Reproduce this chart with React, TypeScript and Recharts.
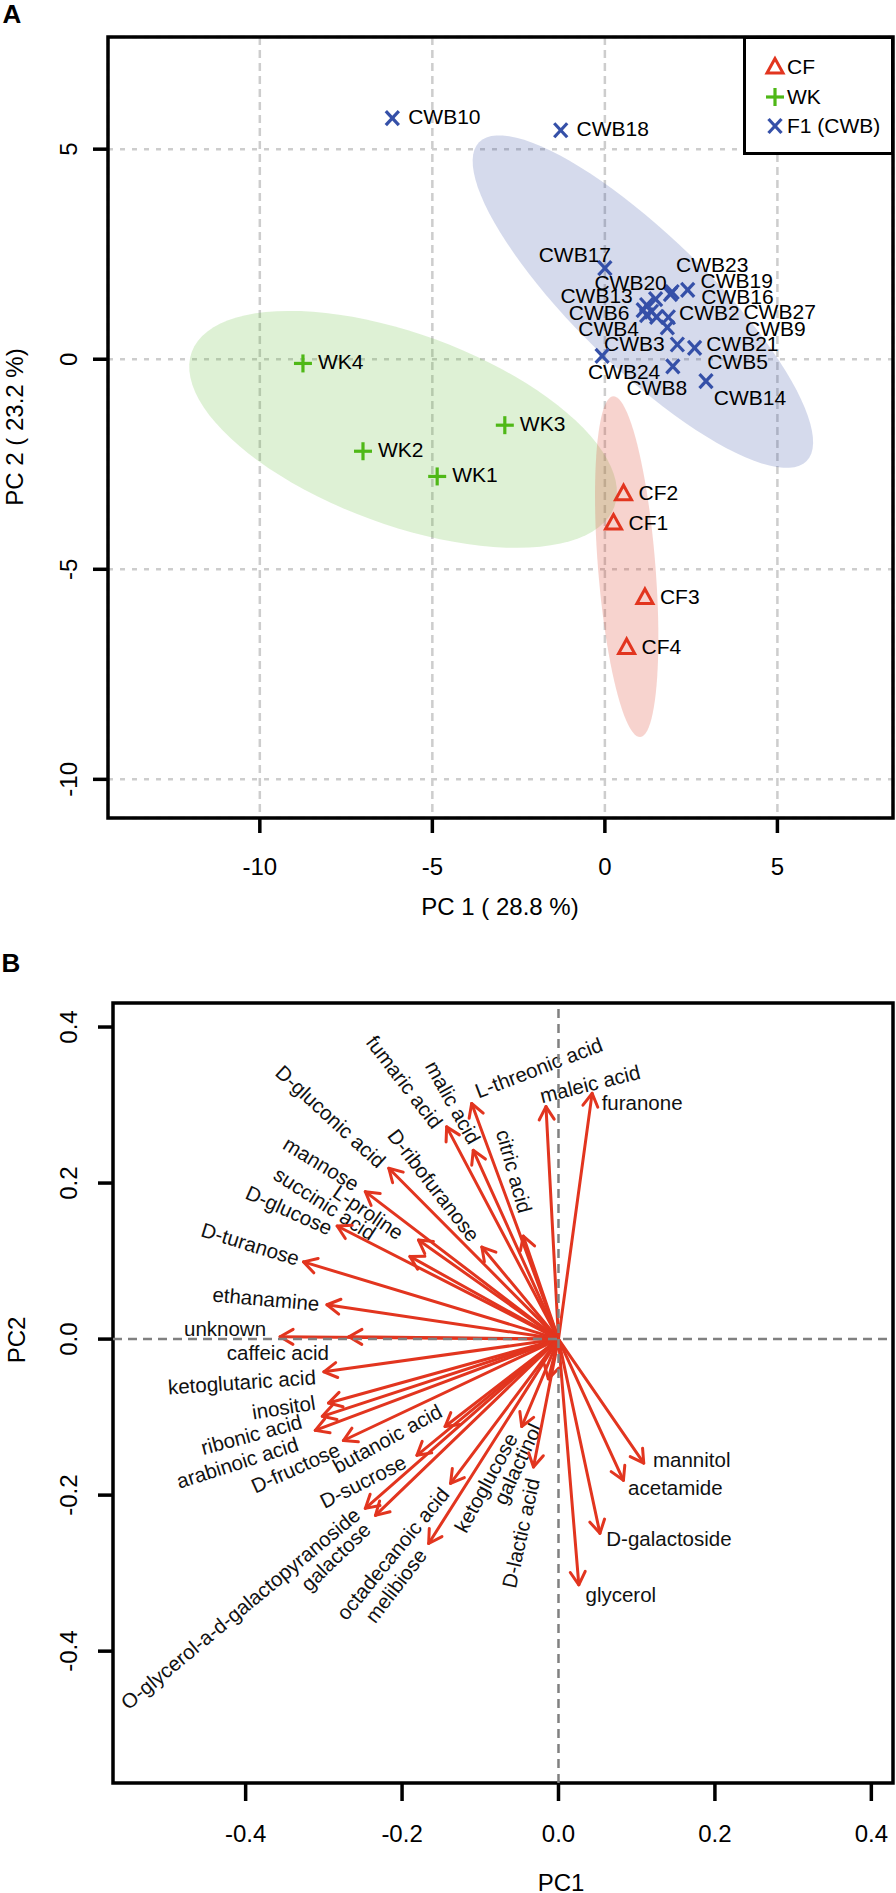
import React from 'react';
import { ScatterChart, Scatter, XAxis, YAxis, CartesianGrid, ReferenceLine, ReferenceArea } from 'recharts';

const FONT = '"Liberation Sans", Arial, Helvetica, sans-serif';
const RED = '#e2351f';
const GREEN = '#4fb817';
const BLUE = '#3550a8';
const GRID = '#cdcdcd';

// ---- panel A: PCA scores ----
const cfScores = [
  { name: 'CF1', pc1: 0.25, pc2: -3.9 },
  { name: 'CF2', pc1: 0.54, pc2: -3.2 },
  { name: 'CF3', pc1: 1.16, pc2: -5.67 },
  { name: 'CF4', pc1: 0.63, pc2: -6.86 },
];

const wkScores = [
  { name: 'WK1', pc1: -4.86, pc2: -2.79 },
  { name: 'WK2', pc1: -7.01, pc2: -2.19 },
  { name: 'WK3', pc1: -2.9, pc2: -1.57 },
  { name: 'WK4', pc1: -8.75, pc2: -0.1 },
];

const cwbScores = [
  { name: 'CWB10', pc1: -6.16, pc2: 5.74 },
  { name: 'CWB18', pc1: -1.28, pc2: 5.45 },
  { name: 'CWB17', pc1: 0.0, pc2: 2.17 },
  { name: 'CWB19', pc1: 2.4, pc2: 1.65 },
  { name: 'CWB16', pc1: 1.9, pc2: 1.55 },
  { name: 'CWB23', pc1: 1.95, pc2: 1.6 },
  { name: 'CWB20', pc1: 1.47, pc2: 1.43 },
  { name: 'CWB13', pc1: 1.21, pc2: 1.29 },
  { name: 'CWB6', pc1: 1.11, pc2: 1.17 },
  { name: 'CWB2', pc1: 1.35, pc2: 1.13 },
  { name: 'CWB4', pc1: 1.21, pc2: 1.05 },
  { name: 'CWB27', pc1: 1.5, pc2: 1.01 },
  { name: 'CWB9', pc1: 1.84, pc2: 1.0 },
  { name: 'CWB3', pc1: 1.81, pc2: 0.76 },
  { name: 'CWB21', pc1: 2.1, pc2: 0.35 },
  { name: 'CWB5', pc1: 2.6, pc2: 0.27 },
  { name: 'CWB24', pc1: -0.08, pc2: 0.08 },
  { name: 'CWB8', pc1: 1.97, pc2: -0.17 },
  { name: 'CWB14', pc1: 2.93, pc2: -0.52 },
];

const scoreTicks = [-10, -5, 0, 5];

// group ellipses: centre and two conjugate semi-axes (PC units)
const ellipseParams = [
  { id: 'F1', color: '#2b44a0', opacity: 0.2, cx: 1.101, cy: 1.371, ux: 4.748, uy: -3.793, vx: -1.34, vy: -1.131 },
  { id: 'WK', color: '#5cb82e', opacity: 0.2, cx: -5.849, cy: -1.669, ux: 6.124, uy: -1.841, vx: -0.951, vy: -2.136 },
  { id: 'CF', color: '#e0503c', opacity: 0.25, cx: 0.632, cy: -4.938, ux: 0.394, uy: -4.056, vx: -0.829, vy: -0.054 },
];

// where each score label sits relative to its point (px)
const scoreLabelPos: Record<string, [number, number, 'start' | 'middle']> = {
  CF1: [15, -1, 'start'], CF2: [15, -1, 'start'], CF3: [15, -1, 'start'], CF4: [15, -1, 'start'],
  WK1: [15, -2, 'start'], WK2: [15, -2, 'start'], WK3: [15, -2, 'start'], WK4: [15, -2, 'start'],
  CWB10: [52, -2, 'middle'], CWB18: [52, -2, 'middle'], CWB17: [-30, -14, 'middle'],
  CWB19: [49, -9, 'middle'], CWB16: [67, 2, 'middle'], CWB23: [40, -28, 'middle'],
  CWB20: [-25, -17, 'middle'], CWB13: [-50, -10, 'middle'], CWB6: [-44, 2, 'middle'],
  CWB2: [58, 1, 'middle'], CWB4: [-38, 13, 'middle'], CWB27: [123, -5, 'middle'],
  CWB9: [107, 11, 'middle'], CWB3: [-33, 16, 'middle'], CWB21: [65, -1, 'middle'],
  CWB5: [43, 14, 'middle'], CWB24: [22, 16, 'middle'], CWB8: [-16, 21, 'middle'],
  CWB14: [44, 16, 'middle'],
};

// ---- panel B: loadings ----
const loadings = [
  { name: 'furanone', pc1: 0.043, pc2: 0.315 },
  { name: 'maleic acid', pc1: -0.016, pc2: 0.298 },
  { name: 'L-threonic acid', pc1: -0.111, pc2: 0.302 },
  { name: 'fumaric acid', pc1: -0.143, pc2: 0.272 },
  { name: 'malic acid', pc1: -0.109, pc2: 0.242 },
  { name: 'citric acid', pc1: -0.045, pc2: 0.132 },
  { name: 'D-ribofuranose', pc1: -0.098, pc2: 0.118 },
  { name: 'D-gluconic acid', pc1: -0.217, pc2: 0.219 },
  { name: 'mannose', pc1: -0.247, pc2: 0.189 },
  { name: 'L-proline', pc1: -0.179, pc2: 0.127 },
  { name: 'succinic acid', pc1: -0.19, pc2: 0.106 },
  { name: 'D-glucose', pc1: -0.283, pc2: 0.145 },
  { name: 'D-turanose', pc1: -0.326, pc2: 0.099 },
  { name: 'ethanamine', pc1: -0.296, pc2: 0.044 },
  { name: 'unknown', pc1: -0.356, pc2: 0.003 },
  { name: 'caffeic acid', pc1: -0.268, pc2: 0.003 },
  { name: 'ketoglutaric acid', pc1: -0.3, pc2: -0.042 },
  { name: 'inositol', pc1: -0.294, pc2: -0.082 },
  { name: 'ribonic acid', pc1: -0.302, pc2: -0.099 },
  { name: 'arabinoic acid', pc1: -0.311, pc2: -0.117 },
  { name: 'D-fructose', pc1: -0.275, pc2: -0.13 },
  { name: 'butanoic acid', pc1: -0.145, pc2: -0.112 },
  { name: 'D-sucrose', pc1: -0.181, pc2: -0.149 },
  { name: 'O-glycerol-a-d-galactopyranoside', pc1: -0.247, pc2: -0.217 },
  { name: 'galactose', pc1: -0.234, pc2: -0.226 },
  { name: 'octadecanoic acid', pc1: -0.138, pc2: -0.185 },
  { name: 'melibiose', pc1: -0.166, pc2: -0.262 },
  { name: 'ketoglucose', pc1: -0.047, pc2: -0.112 },
  { name: 'galactinol', pc1: -0.013, pc2: -0.051 },
  { name: 'D-lactic acid', pc1: -0.032, pc2: -0.164 },
  { name: 'mannitol', pc1: 0.109, pc2: -0.159 },
  { name: 'acetamide', pc1: 0.083, pc2: -0.181 },
  { name: 'D-galactoside', pc1: 0.053, pc2: -0.249 },
  { name: 'glycerol', pc1: 0.026, pc2: -0.315 },
];

const loadingTicks = [-0.4, -0.2, 0, 0.2, 0.4];

// label centre relative to arrow tip (px) and text angle (deg)
const loadingLabelPos: Record<string, [number, number, number]> = {
  'furanone': [50, 9, 0],
  'maleic acid': [44, -23, -14],
  'L-threonic acid': [67, -36, -21],
  'fumaric acid': [-42, -45, 52.5],
  'malic acid': [-20, -48, 61],
  'citric acid': [-9, -65, 74.5],
  'D-ribofuranose': [-48, -62, 52.3],
  'D-gluconic acid': [-58, -52, 42.6],
  'mannose': [-44, -28, 31.4],
  'L-proline': [-50, -28, 34.4],
  'succinic acid': [-85, -53, 32.7],
  'D-glucose': [-48, -16, 24.2],
  'D-turanose': [-53, -18, 17.2],
  'ethanamine': [-61, -6, 5],
  'unknown': [-55, -8, 0],
  'caffeic acid': [-71, 16, 0],
  'ketoglutaric acid': [-82, 10, -4],
  'inositol': [-45, 4, -9],
  'ribonic acid': [-71, 18, -15],
  'arabinoic acid': [-78, 32, -17.7],
  'D-fructose': [-48, 27, -24.2],
  'butanoic acid': [-58, 12, -28.7],
  'D-sucrose': [-54, 26, -26.6],
  'O-glycerol-a-d-galactopyranoside': [-125, 100, -39.6],
  'galactose': [-40, 41, -44.2],
  'octadecanoic acid': [-58, 70, -50.5],
  'melibiose': [-33, 42, -52.4],
  'ketoglucose': [-36, 56, -61.5],
  'galactinol': [-31, 85, -64.9],
  'D-lactic acid': [-13, 66, -77.5],
  'mannitol': [48, -4, 0],
  'acetamide': [52, 7, 0],
  'D-galactoside': [69, 5, 0],
  'glycerol': [42, 10, 0],
};

const ellipseOutline = (e: typeof ellipseParams[number]) =>
  Array.from({ length: 97 }, (_, i) => {
    const t = (i / 96) * 2 * Math.PI;
    return {
      pc1: e.cx + e.ux * Math.cos(t) + e.vx * Math.sin(t),
      pc2: e.cy + e.uy * Math.cos(t) + e.vy * Math.sin(t),
    };
  });

const toPath = (pts: { x: number; y: number }[]) =>
  pts.map((p, i) => `${i ? 'L' : 'M'}${p.x},${p.y}`).join(' ') + ' Z';

const Marker = ({ kind, x, y }: { kind: string; x: number; y: number }) => {
  if (kind === 'triangle')
    return (
      <polygon
        points={`${x},${y - 8.5} ${x - 8},${y + 6} ${x + 8},${y + 6}`}
        fill="none" stroke={RED} strokeWidth={3} strokeLinejoin="miter"
      />
    );
  if (kind === 'plus')
    return (
      <g stroke={GREEN} strokeWidth={3.2}>
        <line x1={x - 9} y1={y} x2={x + 9} y2={y} />
        <line x1={x} y1={y - 9} x2={x} y2={y + 9} />
      </g>
    );
  return (
    <g stroke={BLUE} strokeWidth={3.2}>
      <line x1={x - 6.5} y1={y - 7} x2={x + 6.5} y2={y + 7} />
      <line x1={x - 6.5} y1={y + 7} x2={x + 6.5} y2={y - 7} />
    </g>
  );
};

const ScorePoint = (props: any) => {
  const { cx, cy, payload, kind } = props;
  const [dx, dy, anchor] = scoreLabelPos[payload.name] || [15, 0, 'start'];
  return (
    <g>
      <Marker kind={kind} x={cx} y={cy} />
      <text x={cx + dx} y={cy + dy} textAnchor={anchor} dominantBaseline="central" fontSize={21} fill="#000">
        {payload.name}
      </text>
    </g>
  );
};

const LoadingArrow = (props: any) => {
  const { x1, y1, x2, y2, name } = props;
  const a = Math.atan2(y2 - y1, x2 - x1);
  const L = 15;
  const w = Math.PI / 6;
  const h1 = `${x2 - L * Math.cos(a - w)},${y2 - L * Math.sin(a - w)}`;
  const h2 = `${x2 - L * Math.cos(a + w)},${y2 - L * Math.sin(a + w)}`;
  const [dx, dy, ang] = loadingLabelPos[name] || [0, 0, 0];
  const lx = x2 + dx;
  const ly = y2 + dy;
  return (
    <g>
      <line x1={x1} y1={y1} x2={x2} y2={y2} stroke={RED} strokeWidth={3} strokeLinecap="round" />
      <polyline points={`${h1} ${x2},${y2} ${h2}`} fill="none" stroke={RED} strokeWidth={3} strokeLinecap="round" strokeLinejoin="round" />
      <text x={lx} y={ly} textAnchor="middle" dominantBaseline="central" fontSize={20.5} fill="#111"
        transform={`rotate(${ang} ${lx} ${ly})`}>
        {name}
      </text>
    </g>
  );
};

const makeXTick = (fmt: (v: number) => string) => (p: any) => (
  <text x={p.x} y={p.y} textAnchor="middle" dominantBaseline="central" fontSize={24} fill="#000">
    {fmt(p.payload.value)}
  </text>
);
const makeYTick = (fmt: (v: number) => string) => (p: any) => (
  <text x={p.x} y={p.y} textAnchor="middle" dominantBaseline="central" fontSize={24} fill="#000"
    transform={`rotate(-90 ${p.x} ${p.y})`}>
    {fmt(p.payload.value)}
  </text>
);

const abs = (left: number, top: number, extra: React.CSSProperties = {}): React.CSSProperties => ({
  position: 'absolute', left, top, transform: 'translate(-50%, -50%)', whiteSpace: 'nowrap', ...extra,
});

const A_X: [number, number] = [-14.4, 8.35];
const A_Y: [number, number] = [-10.92, 7.67];
const B_X: [number, number] = [-0.5696, 0.4277];
const B_Y: [number, number] = [-0.569, 0.4308];

const Legend = () => (
  <div style={{ position: 'absolute', left: 743, top: 36, width: 151, height: 119, boxSizing: 'border-box', border: '3px solid #000', background: '#fff' }}>
    {[
      { kind: 'triangle', label: 'CF', y: 28 },
      { kind: 'plus', label: 'WK', y: 58 },
      { kind: 'cross', label: 'F1 (CWB)', y: 87 },
    ].map((it) => (
      <React.Fragment key={it.label}>
        <svg width={30} height={24} style={{ position: 'absolute', left: 14, top: it.y - 12 }}>
          <Marker kind={it.kind} x={15} y={12} />
        </svg>
        <div style={{ position: 'absolute', left: 41, top: it.y - 13, fontSize: 21, lineHeight: '26px' }}>{it.label}</div>
      </React.Fragment>
    ))}
  </div>
);

export default function App() {
  return (
    <div style={{ position: 'absolute', left: 0, top: 0, width: 896, height: 1893, overflow: 'hidden', background: '#fff', fontFamily: FONT, color: '#000' }}>
      {/* panel A */}
      <div style={{ position: 'absolute', left: 0, top: 0 }}>
        <ScatterChart width={896} height={900} margin={{ top: 37, right: 3, bottom: 22, left: 48 }}>
          <CartesianGrid
            vertical={(p: any) => (
              <line key={`v${p.x1}`} x1={p.x1} y1={p.y1} x2={p.x2} y2={p.y2} stroke={GRID} strokeWidth={2.5} strokeDasharray="8 5" />
            )}
            horizontal={(p: any) => (
              <line key={`h${p.y1}`} x1={p.x1} y1={p.y1} x2={p.x2} y2={p.y2} stroke={GRID} strokeWidth={2.5} strokeDasharray="5 7" />
            )}
          />
          <XAxis type="number" dataKey="pc1" domain={A_X} allowDataOverflow ticks={scoreTicks} interval={0}
            height={60} axisLine={false} tickSize={15} tickMargin={33}
            tickLine={{ stroke: '#000', strokeWidth: 3.5 }} tick={makeXTick((v) => String(v))} />
          <YAxis type="number" dataKey="pc2" domain={A_Y} allowDataOverflow ticks={scoreTicks} interval={0}
            width={60} axisLine={false} tickSize={15} tickMargin={24}
            tickLine={{ stroke: '#000', strokeWidth: 3.5 }} tick={makeYTick((v) => String(v))} />
          {ellipseParams.map((e) => (
            <Scatter key={e.id} data={ellipseOutline(e)} isAnimationActive={false} shape={() => <g />}
              line={(lp: any) => <path d={toPath(lp.points)} fill={e.color} fillOpacity={e.opacity} stroke="none" />} />
          ))}
          <Scatter name="CF" data={cfScores} isAnimationActive={false} shape={(p: any) => <ScorePoint {...p} kind="triangle" />} />
          <Scatter name="WK" data={wkScores} isAnimationActive={false} shape={(p: any) => <ScorePoint {...p} kind="plus" />} />
          <Scatter name="F1 (CWB)" data={cwbScores} isAnimationActive={false} shape={(p: any) => <ScorePoint {...p} kind="cross" />} />
          <ReferenceArea x1={A_X[0]} x2={A_X[1]} y1={A_Y[0]} y2={A_Y[1]} fill="none" fillOpacity={0} stroke="#000" strokeWidth={3.5} ifOverflow="visible" />
        </ScatterChart>
      </div>
      <Legend />
      <div style={abs(12, 14, { fontSize: 26, fontWeight: 'bold' })}>A</div>
      <div style={abs(500, 907, { fontSize: 24 })}>PC 1 ( 28.8 %)</div>
      <div style={abs(15, 427, { fontSize: 24, transform: 'translate(-50%, -50%) rotate(-90deg)' })}>PC 2 ( 23.2 %)</div>

      {/* panel B */}
      <div style={{ position: 'absolute', left: 0, top: 950 }}>
        <ScatterChart width={896} height={943} margin={{ top: 53, right: 3, bottom: 50, left: 53 }}>
          <XAxis type="number" dataKey="pc1" domain={B_X} allowDataOverflow ticks={loadingTicks} interval={0}
            height={60} axisLine={false} tickSize={18} tickMargin={32}
            tickLine={{ stroke: '#000', strokeWidth: 3.5 }} tick={makeXTick((v) => v.toFixed(1))} />
          <YAxis type="number" dataKey="pc2" domain={B_Y} allowDataOverflow ticks={loadingTicks} interval={0}
            width={60} axisLine={false} tickSize={15} tickMargin={29}
            tickLine={{ stroke: '#000', strokeWidth: 3.5 }} tick={makeYTick((v) => v.toFixed(1))} />
          <Scatter data={loadings} isAnimationActive={false} shape={() => <g />} />
          {loadings.map((d) => (
            <ReferenceLine key={d.name} segment={[{ x: 0, y: 0 }, { x: d.pc1, y: d.pc2 }]} ifOverflow="visible"
              stroke={RED} shape={(p: any) => <LoadingArrow {...p} name={d.name} />} />
          ))}
          <ReferenceLine x={0} stroke="#808080" strokeWidth={2.5} strokeDasharray="9 6" />
          <ReferenceLine y={0} stroke="#808080" strokeWidth={2.5} strokeDasharray="9 6" />
          <ReferenceArea x1={B_X[0]} x2={B_X[1]} y1={B_Y[0]} y2={B_Y[1]} fill="none" fillOpacity={0} stroke="#000" strokeWidth={3.5} ifOverflow="visible" />
        </ScatterChart>
      </div>
      <div style={abs(11, 963, { fontSize: 26, fontWeight: 'bold' })}>B</div>
      <div style={abs(561, 1883, { fontSize: 24 })}>PC1</div>
      <div style={abs(17, 1340, { fontSize: 24, transform: 'translate(-50%, -50%) rotate(-90deg)' })}>PC2</div>
    </div>
  );
}
